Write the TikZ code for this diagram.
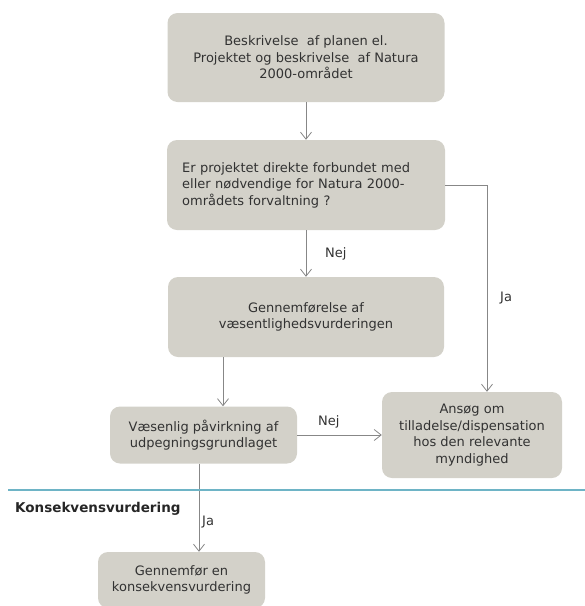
\documentclass[tikz,border=0pt]{standalone}
\usepackage{fontspec}
\setmainfont{DejaVu Sans}
\usetikzlibrary{arrows.meta,calc}
\definecolor{boxgray}{RGB}{211,209,201}
\definecolor{txtgray}{RGB}{50,50,50}
\definecolor{linegray}{RGB}{135,135,135}
\definecolor{sepblue}{RGB}{110,180,198}
\begin{document}
\begin{tikzpicture}[x=1pt,y=-1pt,
  flowbox/.style={fill=boxgray,rounded corners=10pt,inner sep=0pt,text=txtgray,
    font=\fontsize{13}{16.5}\selectfont,align=center},
  conn/.style={draw=linegray,line width=0.8pt,-{Straight Barb[length=7pt,width=11pt]}},
  lbl/.style={text=txtgray,font=\fontsize{13}{16.5}\selectfont,inner sep=0pt}]
\useasboundingbox (0,0) rectangle (585,606);
\node[flowbox,minimum width=277pt,minimum height=89pt] (b1) at (306,57.5)
  {Beskrivelse \ af planen el.\\Projektet og beskrivelse \ af Natura\\2000-området};
\node[flowbox,minimum width=278pt,minimum height=90pt] (b2) at (306,185) {};
\node[lbl,anchor=west,align=left,text width=260pt] (t2) at (182,185)
  {Er projektet direkte forbundet med\\eller nødvendige for Natura 2000-\\områdets forvaltning ?};
\node[flowbox,minimum width=276pt,minimum height=80pt] (b3) at (306,317)
  {Gennemførelse af\\væsentlighedsvurderingen};
\node[flowbox,minimum width=187pt,minimum height=57pt] (b4) at (203.5,435)
  {Væsenlig påvirkning af\\udpegningsgrundlaget};
\node[flowbox,minimum width=180pt,minimum height=86pt] (b5) at (472,435)
  {Ansøg om\\tilladelse/dispensation\\hos den relevante\\myndighed};
\node[flowbox,minimum width=167pt,minimum height=56pt] (b6) at (181.5,580)
  {Gennemfør en\\konsekvensvurdering};
\coordinate (c34) at (223,0);
\coordinate (c46) at (199,0);
\coordinate (cja) at (487,0);
\draw[conn] (b1.south) -- (b2.north);
\draw[conn] (b2.south) -- (b3.north);
\draw[conn] (b2.east) -| (b5.north -| cja);
\draw[conn] (b3.south -| c34) -- (b4.north -| c34);
\draw[conn] (b4.east) -- (b5.west);
\draw[conn] (b4.south -| c46) -- (b6.north -| c46);
\node[lbl,anchor=west] (nej1) at (325,254) {Nej};
\node[lbl,anchor=west] (ja1) at (500,298) {Ja};
\node[lbl,anchor=west] (nej2) at (318,422) {Nej};
\node[lbl,anchor=west] (ja2) at (202,522) {Ja};
\coordinate (s1) at (8,490);
\coordinate (s2) at (585,490);
\draw[sepblue,line width=1.8pt] (s1) -- (s2);
\node[anchor=west,inner sep=0pt,text=black!85,font=\fontsize{13.5}{16}\selectfont\bfseries] (kv) at (15,509) {Konsekvensvurdering};
\end{tikzpicture}
\end{document}
